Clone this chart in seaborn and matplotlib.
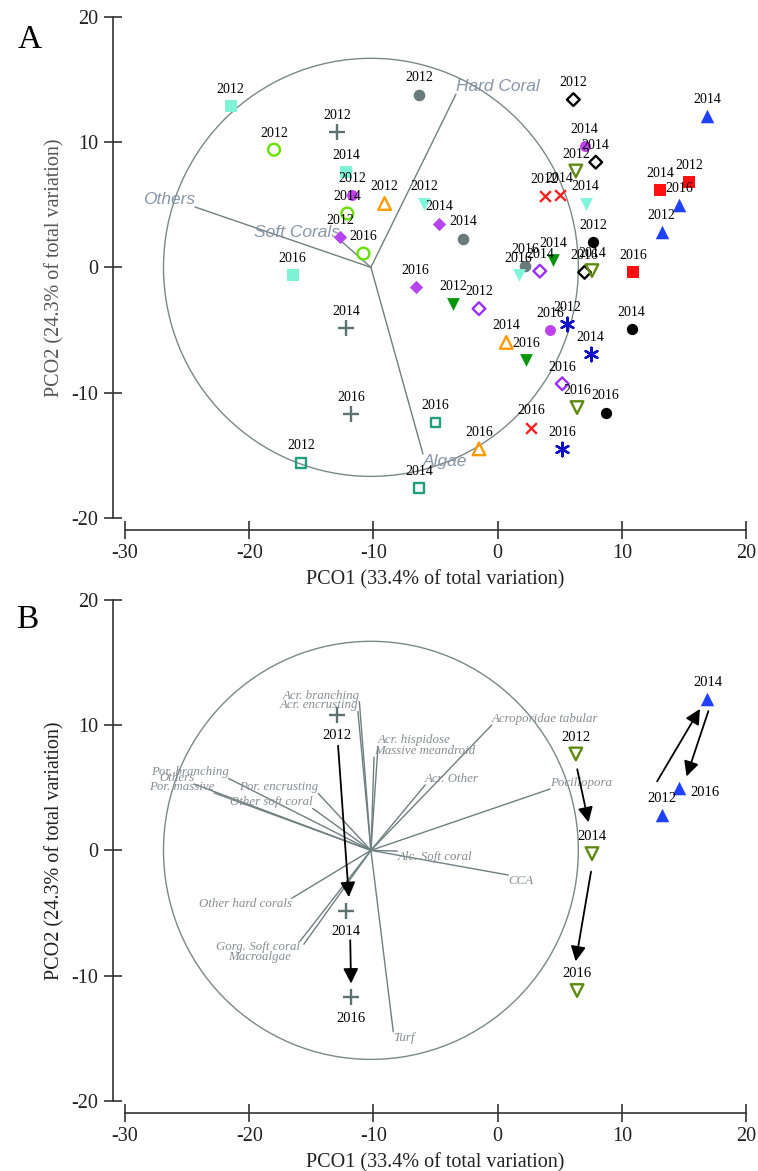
import numpy as np
import pandas as pd
import matplotlib
matplotlib.use("Agg")
import matplotlib.pyplot as plt
import seaborn as sns
from matplotlib.patches import Ellipse
from matplotlib.transforms import ScaledTranslation

# ---------------- data ----------------
sites = ["S01", "S02", "S03", "S04", "S05", "S06", "S07", "S08", "S09",
         "S10", "S11", "S12", "S13", "S14", "S15", "S16", "S17", "S18"]
years = [2012, 2014, 2016]

pco1_2012 = [-21.5, -18.0, -12.9, -6.3, -12.7, -11.7, -9.1, -5.9, -3.6,
             -1.5, -15.8, 3.8, 5.6, 7.7, 6.1, 6.3, 15.4, 13.2]
pco2_2012 = [12.9, 9.4, 10.8, 13.8, 2.4, 5.8, 5.1, 5.1, -2.9,
             -3.3, -15.6, 5.7, -4.5, 2.0, 13.4, 7.7, 6.8, 2.85]
pco1_2014 = [-12.2, -12.1, -12.2, -2.8, -4.7, 7.0, 0.7, 7.1, 4.5,
             3.4, -6.3, 5.0, 7.5, 10.8, 7.9, 7.6, 13.1, 16.9]
pco2_2014 = [7.6, 4.3, -4.85, 2.3, 3.5, 9.7, -6.0, 5.1, 0.6,
             -0.3, -17.65, 5.8, -6.9, -4.9, 8.4, -0.26, 6.2, 12.1]
pco1_2016 = [-16.5, -10.8, -11.8, 2.2, -6.6, 4.2, -1.5, 1.7, 2.3,
             5.2, -5.0, 2.7, 5.2, 8.7, 7.0, 6.4, 10.9, 14.6]
pco2_2016 = [-0.6, 1.1, -11.75, 0.1, -1.6, -5.0, -14.5, -0.6, -7.4,
             -9.3, -12.4, -12.8, -14.5, -11.6, -0.4, -11.2, -0.35, 4.95]

sites_B = ["S03", "S16", "S18"]

# vector overlay, panel A (variable correlations, drawn from circle centre)
vec_center = (-10.2, 0.0)
vec_radius = 16.7
vecA_names = ["Hard Coral", "Others", "Soft Corals", "Algae"]
vecA_x = [-3.35, -24.36, -12.69, -6.01]
vecA_y = [13.84, 4.82, 2.18, -14.91]

# vector overlay, panel B
vecB_names = ["Acr. branching", "Acr. encrusting", "Acr. hispidose",
              "Massive meandroid", "Acroporidae tabular", "Acr. Other",
              "Pocillopora", "Alc. Soft coral", "CCA", "Por. branching",
              "Others", "Por. massive", "Por. encrusting", "Other soft coral",
              "Other hard corals", "Gorg. Soft coral", "Macroalgae", "Turf"]
vecB_x = [-11.13, -11.25, -9.63, -9.95, -0.48, -5.83, 4.22, -8.07, 0.86,
          -21.67, -24.44, -22.83, -14.44, -14.89, -16.58, -15.9, -15.6, -8.4]
vecB_y = [11.87, 11.1, 8.3, 7.45, 10.0, 5.23, 4.9, -0.06, -1.97,
          5.75, 5.3, 4.59, 4.55, 3.35, -3.83, -7.25, -7.5, -14.49]

# ---------------- styles ----------------
site_style = {
    "S01": dict(marker="s", color="#7ff3d6", kind="filled", s=80),
    "S02": dict(marker="o", color="#66e000", kind="open", s=72),
    "S03": dict(marker="+", color="#5f7272", kind="line", s=135),
    "S04": dict(marker="o", color="#687a7a", kind="filled", s=70),
    "S05": dict(marker="D", color="#b545f0", kind="filled", s=46),
    "S06": dict(marker="o", color="#c040f0", kind="filled", s=62),
    "S07": dict(marker="^", color="#ff9a00", kind="open", s=82),
    "S08": dict(marker="v", color="#80f5dc", kind="filled", s=85),
    "S09": dict(marker="v", color="#0a960a", kind="filled", s=85),
    "S10": dict(marker="D", color="#9a30ff", kind="open", s=42),
    "S11": dict(marker="s", color="#20a07a", kind="open", s=50),
    "S12": dict(marker="x", color="#ff2020", kind="line", s=60),
    "S13": dict(marker=(6, 2, 0), color="#1010c8", kind="line", s=95),
    "S14": dict(marker="o", color="#000000", kind="filled", s=66),
    "S15": dict(marker="D", color="#000000", kind="open", s=42),
    "S16": dict(marker="v", color="#5e8a10", kind="open", s=82),
    "S17": dict(marker="s", color="#ff1010", kind="filled", s=83),
    "S18": dict(marker="^", color="#2040ff", kind="filled", s=95),
}

# ---------------- build table ----------------
rows = []
for yr, px, py in [(2012, pco1_2012, pco2_2012), (2014, pco1_2014, pco2_2014),
                   (2016, pco1_2016, pco2_2016)]:
    for s, a, b in zip(sites, px, py):
        rows.append(dict(site=s, year=yr, PCO1=a, PCO2=b))
df = pd.DataFrame(rows)

# ---------------- figure ----------------
sns.set_theme(style="ticks")
plt.rcParams["font.family"] = ["Liberation Serif", "DejaVu Serif"]
plt.rcParams["axes.unicode_minus"] = False

W, H = 758, 1171
fig = plt.figure(figsize=(W / 100, H / 100), dpi=100)
fig.patch.set_facecolor("white")

axA = fig.add_axes([125 / W, 1 - 517.7 / H, 621 / W, 500.7 / H])
axB = fig.add_axes([125 / W, 1 - 1100.7 / H, 621 / W, 500.7 / H])

VEC_COLOR = "#6f7f80"
CIRC_COLOR = "#7a8888"


def style_axes(ax, ylab_color):
    ax.set_xlim(-30, 20)
    ax.set_ylim(-20, 20)
    ax.set_facecolor("white")
    for side in ["top", "right"]:
        ax.spines[side].set_visible(False)
    for side in ["left", "bottom"]:
        ax.spines[side].set_position(("outward", 8.6))
        ax.spines[side].set_linewidth(1.2)
        ax.spines[side].set_color("#333333")
    ax.set_xticks([-30, -20, -10, 0, 10, 20])
    ax.set_yticks([-20, -10, 0, 10, 20])
    ax.tick_params(direction="inout", length=13, width=1.2, color="#333333",
                   labelsize=14.5, labelcolor="#222222", pad=4)
    ax.set_xlabel("PCO1 (33.4% of total variation)", fontsize=14.5,
                  color="#222222", labelpad=5)
    ax.set_ylabel("PCO2 (24.3% of total variation)", fontsize=14.5,
                  color=ylab_color, labelpad=5)


def draw_sites(ax, data):
    for s, sub in data.groupby("site", sort=False):
        st = site_style[s]
        kw = dict(marker=st["marker"], s=st["s"], ax=ax, legend=False, zorder=4)
        if st["kind"] == "filled":
            kw.update(color=st["color"], edgecolor=st["color"], linewidth=0)
        elif st["kind"] == "open":
            kw.update(color=st["color"], facecolor="none",
                      edgecolor=st["color"], linewidth=1.7)
        else:
            kw.update(color=st["color"], linewidth=1.7)
        sns.scatterplot(data=sub, x="PCO1", y="PCO2", **kw)


def draw_vectors(ax, names, xs, ys, font, nudges=None):
    nudges = nudges or {}
    cx, cy = vec_center
    ax.add_patch(Ellipse((cx, cy), 2 * vec_radius, 2 * vec_radius, fill=False,
                         edgecolor=CIRC_COLOR, linewidth=1.0, zorder=1))
    for n, x, y in zip(names, xs, ys):
        ax.plot([cx, x], [cy, y], color=VEC_COLOR, linewidth=1.0, zorder=2)
        ha = "left" if x >= cx else "right"
        va = "bottom" if y >= cy else "top"
        dx, dy = nudges.get(n, (0, 0))
        ax.annotate(n, (x, y), xytext=(dx, dy), textcoords="offset points",
                    ha=ha, va=va, zorder=3, **font)


# ---------------- panel A ----------------
style_axes(axA, "#555555")
draw_vectors(axA, vecA_names, vecA_x, vecA_y,
             dict(fontsize=12.5, fontstyle="italic", family="Liberation Sans",
                  color="#8796a8"))
draw_sites(axA, df)
for _, r in df.iterrows():
    axA.annotate(str(r["year"]), (r["PCO1"], r["PCO2"]), xytext=(0, 12),
                 textcoords="offset points", ha="center", va="center",
                 fontsize=10, color="black", zorder=5)

# ---------------- panel B ----------------
style_axes(axB, "#222222")
draw_vectors(axB, vecB_names, vecB_x, vecB_y,
             dict(fontsize=9.3, fontstyle="italic", family="Liberation Serif",
                  color="#858d92"),
             nudges={"Macroalgae": (-9, -5)})
dfB = df[df["site"].isin(sites_B)]
draw_sites(axB, dfB)

label_off_B = {"S03": {2012: (0, -15), 2014: (0, -15), 2016: (0, -15)},
               "S16": {2012: (0, 12), 2014: (0, 12), 2016: (0, 12)},
               "S18": {2012: (0, 11.5), 2014: (0, 11.5), 2016: (19, -3)}}
for _, r in dfB.iterrows():
    axB.annotate(str(r["year"]), (r["PCO1"], r["PCO2"]),
                 xytext=label_off_B[r["site"]][r["year"]],
                 textcoords="offset points", ha="center", va="center",
                 fontsize=10.5, color="black", zorder=5)

# arrow end offsets (points) from the start / end markers
arrow_offsets = {"S03": [((0.5, -22), (2, 10)), ((3, -21), (0, 10))],
                 "S16": [((1, -11), (-2.5, 22.5)), ((-0.7, -13), (-1, 21))],
                 "S18": [((-3.2, 24), (-5.4, -7.2)), ((0.6, -8.9), (5.5, 8.6))]}


def shifted(ax, off):
    return ax.transData + ScaledTranslation(off[0] / 72, off[1] / 72,
                                            fig.dpi_scale_trans)


for s in sites_B:
    sub = dfB[dfB["site"] == s].sort_values("year")
    pts = sub[["PCO1", "PCO2"]].to_numpy()
    for i in range(len(pts) - 1):
        oa, ob = arrow_offsets[s][i]
        axB.annotate("", xy=tuple(pts[i + 1]), xycoords=shifted(axB, ob),
                     xytext=tuple(pts[i]), textcoords=shifted(axB, oa),
                     arrowprops=dict(arrowstyle="-|>,head_length=0.6,head_width=0.3",
                                     color="black", lw=1.3, shrinkA=0, shrinkB=0,
                                     mutation_scale=15),
                     zorder=5)

# panel letters
fig.text(30 / W, 1 - 40 / H, "A", fontsize=24, ha="center", va="center",
         color="black")
fig.text(27 / W, 1 - 620 / H, "B", fontsize=24, ha="center", va="center",
         color="black")

fig.savefig("out.png", dpi=100, facecolor="white")
